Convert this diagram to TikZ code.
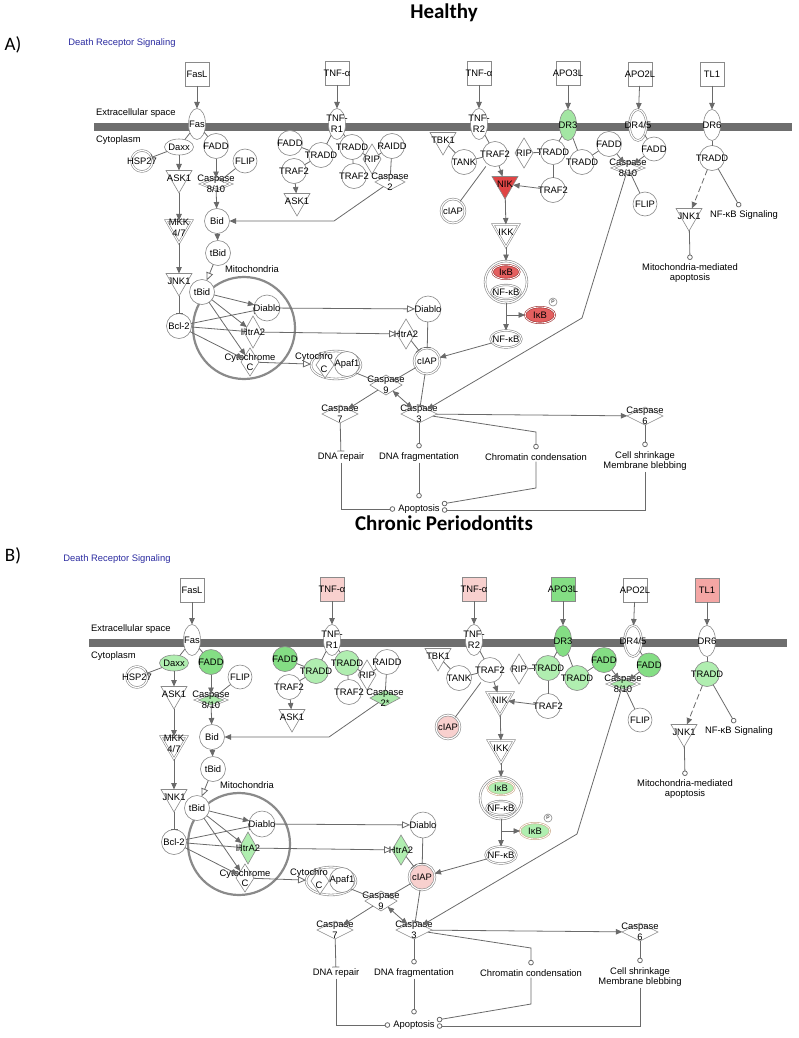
\documentclass[tikz,border=0pt]{standalone}
\usepackage{fontspec}
\setmainfont{Liberation Sans}
\newfontfamily\titlefamily{Carlito}
\usetikzlibrary{arrows.meta,shapes.geometric,calc}

\definecolor{linegray}{HTML}{6A6A6A}
\definecolor{edgegray}{HTML}{8A8A8A}
\definecolor{membranegray}{HTML}{6E6E6E}
\definecolor{labelblue}{HTML}{2B2BA0}
\definecolor{upred}{HTML}{E04545}
\definecolor{upredlight}{HTML}{E45F5F}
\definecolor{uppink}{HTML}{F8D0CE}
\definecolor{uppinkdark}{HTML}{F4A6A4}
\definecolor{downgreen}{HTML}{84DE84}
\definecolor{downgreenlight}{HTML}{B0EEB0}
\definecolor{ikbring}{HTML}{C9A98A}

\newcommand{\lbl}{\fontsize{9.4}{10.6}\selectfont}
\newcommand{\titlefnt}{\titlefamily\bfseries\fontsize{21}{24}\selectfont}
\newcommand{\letterfnt}{\titlefamily\fontsize{19}{22}\selectfont}

\tikzset{
  mol/.style={draw=edgegray, line width=0.6pt, fill=white, inner sep=0pt, outer sep=0pt},
  circ/.style={mol, circle, minimum size=25pt},
  dcirc/.style={circ, double=white, double distance=1.2pt},
  ell/.style={mol, ellipse, minimum width=29pt, minimum height=16pt},
  dell/.style={ell, double=white, double distance=1pt},
  rec/.style={mol, ellipse, minimum width=17pt, minimum height=31pt},
  lig/.style={mol, rectangle, minimum size=24pt},
  kin/.style={mol, regular polygon, regular polygon sides=3, shape border rotate=180, minimum size=30pt},
  dkin/.style={kin, double=white, double distance=1pt},
  pep/.style={mol, diamond, minimum width=36pt, minimum height=18pt},
  dpep/.style={pep, double=white, double distance=1pt, minimum width=30pt, minimum height=12pt},
  tall/.style={mol, diamond, minimum width=18pt, minimum height=30pt},
  ikbst/.style={mol, ellipse, minimum width=27pt, minimum height=14pt, fill=fIkB, draw=fRing, double=white, double distance=0.8pt},
  txt/.style={font=\lbl, inner sep=1pt},
  every label/.style={font=\lbl, inner sep=0pt, align=center, text=black},
  link/.style={draw=linegray, line width=0.8pt},
  act/.style={link, -{Triangle[length=6.5pt,width=5.5pt]}},
  both/.style={link, {Triangle[length=6.5pt,width=5.5pt]}-{Triangle[length=6.5pt,width=5.5pt]}},
  trans/.style={link, -{Triangle[open,fill=white,length=8pt,width=7pt]}},
  inh/.style={link, -{Bar[width=7pt]}},
  endc/.style={link, -{Circle[open,fill=white,length=5.5pt]}},
}

\newcommand{\deathpanel}{%
  \node[txt, text=labelblue] (drs) at (122,43) {Death Receptor Signaling};
  % membrane, compartments
  \fill[membranegray] (94,123) rectangle (792,131);
  \node[txt, anchor=west] (extra) at (95,113) {Extracellular space};
  \node[txt, anchor=west] (cyto) at (95,140) {Cytoplasm};
  \draw[edgegray, line width=2.2pt] (244,328) circle (51);
  \node[txt] (mito) at (252,269) {Mitochondria};
  % ligands
  \node[lig, label=center:FasL] (fasl) at (197,74) {};
  \node[lig, fill=fTNF, label=center:TNF-α] (tnfa) at (337,73) {};
  \node[lig, fill=fTNF, label=center:TNF-α] (tnfb) at (479,73) {};
  \node[lig, fill=fAPO, label=center:APO3L] (apo3l) at (568,73) {};
  \node[lig, label=center:APO2L] (apo2l) at (640,74) {};
  \node[lig, fill=fTL, label=center:TL1] (tl1) at (712,74) {};
  % receptors
  \node[rec, label=center:Fas] (fas) at (197,124) {};
  \node[rec, label={center:TNF-\\R1}] (tnfr1) at (337,124) {};
  \node[rec, label={center:TNF-\\R2}] (tnfr2) at (479,124) {};
  \node[rec, fill=fDR, label=center:DR3] (dr3) at (568,125) {};
  \node[rec, double=white, double distance=1.2pt, label=center:DR4/5] (dr45) at (638,125) {};
  \node[rec, label=center:DR6] (dr6) at (712,125) {};
  % Fas branch
  \node[ell, fill=fDaxx, label=center:Daxx] (daxx) at (179,147) {};
  \node[circ, fill=fFADD, label=center:FADD] (fadd1) at (216,146) {};
  \node[dcirc, minimum size=21pt, label=center:HSP27] (hsp27) at (142,161) {};
  \node[circ, minimum size=24pt, label=center:FLIP] (flip1) at (245,161) {};
  \node[kin, label=center:ASK1] (ask1a) at (179,178) {};
  \node[dpep, fill=fCasp, label={center:Caspase\\8/10}] (casp1) at (216,184) {};
  \node[dkin, label={center:MKK\\4/7}] (mkk) at (179,228) {};
  \node[circ, label=center:Bid] (bid) at (217,221) {};
  \node[circ, label=center:tBid] (tbid1) at (218,253) {};
  \node[circ, label=center:tBid] (tbid2) at (202,292) {};
  \node[kin, label=center:JNK1] (jnk1a) at (179,281) {};
  \node[circ, label=center:Bcl-2] (bcl2) at (179,326) {};
  % mitochondria
  \node[circ, minimum size=26pt, label=center:Diablo] (diablo1) at (267,308) {};
  \node[tall, fill=fHtrA, minimum height=32pt, label=center:HtrA2] (htra1) at (253,332) {};
  \node[tall, minimum height=28pt, label={center:Cytochrome\\C}] (cytc) at (250,362) {};
  \node[circ, minimum size=26pt, label=center:Diablo] (diablo2) at (428,309) {};
  \node[tall, fill=fHtrA, label=center:HtrA2] (htra2) at (406,334) {};
  \node[mol, ellipse, double=white, double distance=1.2pt, minimum width=50pt, minimum height=28pt] (apaf) at (336,365) {};
  \node[tall, minimum height=26pt] (cytcx) at (325,365) {};
  \node[circ, label=center:Apaf1] (apaf1) at (347,364) {};
  \node[txt] (cytctxt) at (314,357) {Cytochro};
  \node[txt] (ctxt) at (324,369) {C};
  \node[dcirc, minimum size=26pt, fill=fcIAP, label=center:cIAP] (ciap2) at (427,361) {};
  % caspases
  \node[pep, minimum width=32pt, minimum height=20pt, label={center:Caspase\\9}] (casp9) at (386,385) {};
  \node[pep, label={center:Caspase\\3}] (casp3) at (419,414) {};
  \node[pep, label={center:Caspase\\7}] (casp7) at (340,414) {};
  \node[pep, label={center:Caspase\\6}] (casp6) at (645,416) {};
  % outcomes
  \node[txt] (dnarep) at (341,457) {DNA repair};
  \node[txt] (dnafrag) at (419,457) {DNA fragmentation};
  \node[txt] (chrom) at (536,457) {Chromatin condensation};
  \node[txt, align=center] (shrink) at (645,461) {Cell shrinkage\\Membrane blebbing};
  \node[txt] (apop) at (419,509) {Apoptosis};
  % TNF-R1 branch
  \node[circ, fill=fFADD, label=center:FADD] (fadd2) at (290,143) {};
  \node[circ, fill=fTRADD, label=center:TRADD] (tradd1) at (321,155) {};
  \node[circ, fill=fTRADD, label=center:TRADD] (tradd2) at (352,147) {};
  \node[tall, label=center:RIP] (rip1) at (372,159) {};
  \node[circ, label=center:RAIDD] (raidd) at (392,146) {};
  \node[circ, label=center:TRAF2] (traf2a) at (294,171) {};
  \node[circ, label=center:TRAF2] (traf2b) at (354,176) {};
  \node[kin, label=center:ASK1] (ask1b) at (297,201) {};
  \node[pep, minimum width=30pt, minimum height=16pt, fill=fCasp, label={center:Caspase\\{\casptwo}}] (casp2) at (390,182) {};
  % TNF-R2 branch
  \node[kin, label=center:TBK1] (tbk1) at (443,140) {};
  \node[circ, label=center:TANK] (tank) at (464,162) {};
  \node[circ, label=center:TRAF2] (traf2c) at (495,154) {};
  \node[dcirc, minimum size=24pt, fill=fcIAP, label=center:cIAP] (ciap1) at (453,211) {};
  \node[nikshape, fill=fNIK, label=center:NIK] (nik) at (505,184) {};
  \node[dkin, label=center:IKK] (ikk) at (506,232) {};
  % DR3, DR4/5 branch
  \node[tall, label=center:RIP] (rip2) at (524,153) {};
  \node[circ, fill=fTRADD, label=center:TRADD] (tradd3) at (553,152) {};
  \node[circ, fill=fTRADD, label=center:TRADD] (tradd4) at (582,162) {};
  \node[circ, label=center:TRAF2] (traf2d) at (553,190) {};
  \node[circ, fill=fFADD, label=center:FADD] (fadd3) at (609,144) {};
  \node[circ, minimum size=24pt, fill=fFADD, label=center:FADD] (fadd4) at (654,149) {};
  \node[dpep, fill=fCasp, label={center:Caspase\\8/10}] (casp2b) at (628,168) {};
  \node[circ, minimum size=24pt, label=center:FLIP] (flip2) at (645,204) {};
  % DR6 branch
  \node[circ, fill=fTRADD, label=center:TRADD] (tradd5) at (712,158) {};
  \node[kin, label=center:JNK1] (jnk1b) at (689,216) {};
  \node[txt] (nfsig) at (744,215) {NF-κB Signaling};
  \coordinate (nfsigc) at (740,207);
  \node[txt, align=center] (mitoapo) at (690,273) {Mitochondria-mediated\\apoptosis};
  \coordinate (mitoapoc) at (690,260);
  % NF-kB complex
  \node[dcirc, minimum size=42pt] (nfcx) at (506,282) {};
  \node[ikbst, label=center:IκB] (ikb) at (506,272) {};
  \node[dell, minimum width=29pt, minimum height=14pt, label=center:NF-κB] (nfkb1) at (506,292) {};
  \node[dell, minimum width=31pt, minimum height=17pt, label=center:NF-κB] (nfkb2) at (506,339) {};
  \node[ikbst, minimum width=30pt, minimum height=16pt, label=center:IκB] (ikbp) at (540,315) {};
  \node[mol, circle, minimum size=8pt, label={[font=\fontsize{5}{6}\selectfont]center:P}] (phos) at (553,302) {};
  % ligand binding
  \draw[act] (fasl) -- (fas);
  \draw[act] (tnfa) -- (tnfr1);
  \draw[act] (tnfb) -- (tnfr2);
  \draw[act] (apo3l) -- (dr3);
  \draw[act] (apo2l) -- (dr45);
  \draw[act] (tl1) -- (dr6);
  % Fas signalling
  \draw[link] (fas) -- (daxx);
  \draw[link] (fas) -- (fadd1);
  \draw[inh] (daxx) -- (hsp27);
  \draw[act] (daxx) -- (ask1a);
  \draw[act] (fadd1) -- (casp1);
  \draw[inh] (flip1) -- (casp1);
  \draw[act] (ask1a) -- (mkk);
  \draw[act] (mkk) -- (jnk1a);
  \draw[inh] (jnk1a) -- (bcl2);
  \draw[act] (casp1) -- (bid);
  \draw[act] (bid) -- (tbid1);
  \draw[trans] (tbid1) -- (tbid2);
  % mitochondrial release
  \draw[act] (tbid2) -- (diablo1);
  \draw[act] (tbid2) -- (htra1);
  \draw[act] (tbid2) -- (cytc);
  \draw[inh] (bcl2) -- (diablo1);
  \draw[inh] (bcl2) -- (htra1);
  \draw[act] (bcl2) -- (cytc);
  \draw[trans] (diablo1) -- (diablo2);
  \draw[trans] (htra1) -- (htra2);
  \draw[trans] (cytc) -- (apaf);
  \draw[inh] (diablo2) -- (ciap2);
  \draw[inh] (htra2) -- (ciap2);
  \draw[link] (apaf) -- (casp9);
  \draw[inh] (ciap2) -- (casp9);
  \draw[inh] (ciap2) -- (casp3);
  \draw[both] (casp9) -- (casp3);
  \draw[act] (casp9) -- (casp7);
  % outcomes
  \draw[inh] (casp7) -- (dnarep);
  \draw[endc, shorten >=3pt] (casp3) -- (dnafrag);
  \draw[endc, shorten >=3pt] (casp3) -- (536,432) -- (chrom);
  \draw[act] (casp3) -- (casp6);
  \draw[endc, shorten >=3pt] (casp6) -- (shrink);
  \draw[endc, shorten >=5pt] (dnafrag) -- (apop);
  \draw[endc, shorten >=2pt] (dnarep) |- (apop);
  \draw[endc] (chrom) -- (536,488) -- ($(apop.east)+(1,-5)$);
  \draw[endc] (shrink) |- ($(apop.east)+(1,1)$);
  % TNF-R1 signalling
  \draw[link] (tnfr1) -- (tradd1);
  \draw[link] (tnfr1) -- (tradd2);
  \draw[link] (fadd2) -- (tradd1);
  \draw[link] (tradd1) -- (traf2a);
  \draw[act] (traf2a) -- (ask1b);
  \draw[link] (tradd2) -- (traf2b);
  \draw[link] (tradd2) -- (rip1);
  \draw[link] (rip1) -- (raidd);
  \draw[link] (raidd) -- (casp2);
  \draw[act] (casp2) -- (334,221) -- (bid);
  % TNF-R2 signalling
  \draw[link] (tnfr2) -- (traf2c);
  \draw[link] (tbk1) -- (tank);
  \draw[link] (tank) -- (traf2c);
  \draw[link, shorten >=3pt] (ciap1) -- (traf2c);
  \draw[act] (traf2c) -- (nik);
  \draw[act] (traf2d) -- (nik);
  \draw[act] (nik) -- (ikk);
  \draw[act] (ikk) -- (nfcx);
  \draw[act] (nfcx) -- (nfkb2);
  \draw[act] ($(nfcx.south)+(0,12)$) -- (ikbp);
  \draw[act] (nfkb2) -- (ciap2);
  % DR3, DR4/5 signalling
  \draw[link] (rip2) -- (tradd3);
  \draw[link] (dr3) -- (tradd3);
  \draw[link] (dr3) -- (tradd4);
  \draw[link] (tradd3) -- (traf2d);
  \draw[link] (tradd4) -- (fadd3);
  \draw[act] (fadd3) -- (casp2b);
  \draw[link] (dr45) -- (fadd4);
  \draw[act] (fadd4) -- (casp2b);
  \draw[inh] (flip2) -- (casp2b);
  \draw[act] (casp2b) -- (582,318) -- (casp3);
  % DR6 signalling
  \draw[link] (dr6) -- (tradd5);
  \draw[act, dash pattern=on 6pt off 3pt] (tradd5) -- (jnk1b);
  \draw[endc] (tradd5) -- (nfsigc);
  \draw[endc] (jnk1b) -- (mitoapoc);
}

\begin{document}
\begin{tikzpicture}[x=1pt, y=-1pt]
\useasboundingbox (0,0) rectangle (798,1038);

\node[font=\letterfnt] (lettera) at (13,45) {A)};
\node[font=\titlefnt] (titlea) at (444,13) {Healthy};
\node[font=\letterfnt] (letterb) at (13,556) {B)};
\node[font=\titlefnt] (titleb) at (444,523) {Chronic Periodontits};

% healthy
\begin{scope}[nikshape/.style={kin}]
  \colorlet{fTNF}{white}
  \colorlet{fAPO}{white}
  \colorlet{fTL}{white}
  \colorlet{fDR}{downgreen!75!white}
  \colorlet{fDaxx}{white}
  \colorlet{fFADD}{white}
  \colorlet{fTRADD}{white}
  \colorlet{fCasp}{white}
  \colorlet{fcIAP}{white}
  \colorlet{fNIK}{upred}
  \colorlet{fIkB}{upredlight}
  \colorlet{fRing}{upred!70!black}
  \colorlet{fHtrA}{white}
  \def\casptwo{2}
  \deathpanel
\end{scope}

% chronic periodontitis
\begin{scope}[shift={(-5,516)}, nikshape/.style={dkin}]
  \colorlet{fTNF}{uppink}
  \colorlet{fAPO}{downgreen}
  \colorlet{fTL}{uppinkdark}
  \colorlet{fDR}{downgreen}
  \colorlet{fDaxx}{downgreenlight}
  \colorlet{fFADD}{downgreen}
  \colorlet{fTRADD}{downgreenlight}
  \colorlet{fCasp}{downgreen!70!white}
  \colorlet{fcIAP}{uppink}
  \colorlet{fNIK}{white}
  \colorlet{fIkB}{downgreenlight}
  \colorlet{fRing}{ikbring}
  \colorlet{fHtrA}{downgreenlight}
  \def\casptwo{2*}
  \deathpanel
\end{scope}

\end{tikzpicture}
\end{document}
